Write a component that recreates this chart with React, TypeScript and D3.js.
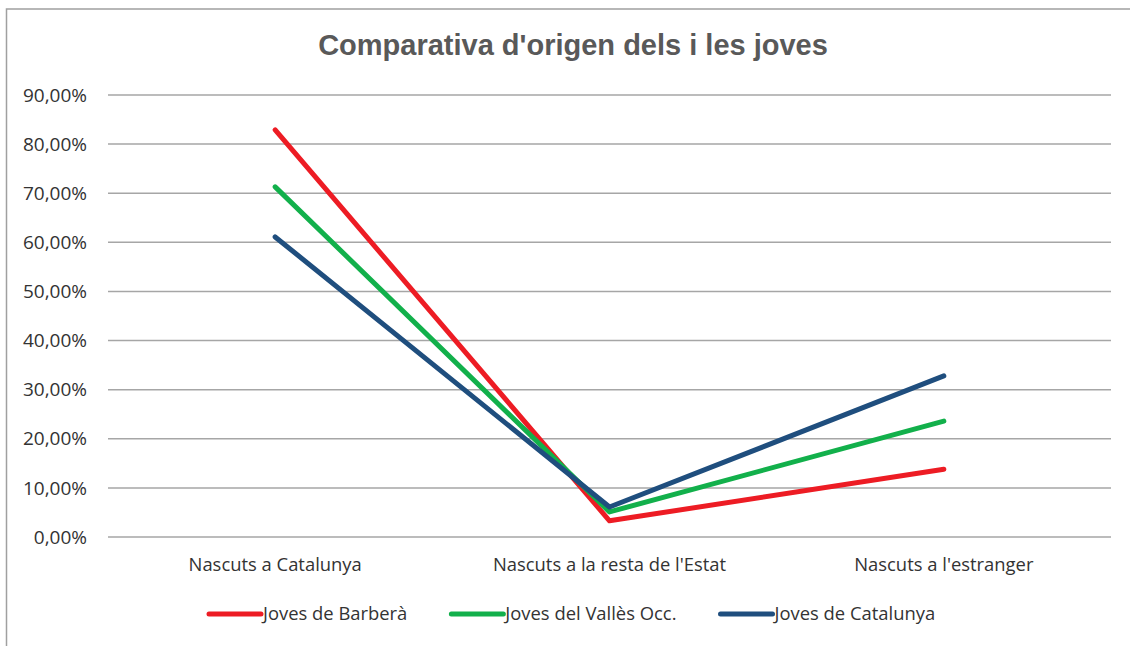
import * as d3 from 'd3';
import React, { useEffect, useRef } from 'react';

// Chart values (shares of young people by place of birth)
const categories = ['Nascuts a Catalunya', "Nascuts a la resta de l'Estat", "Nascuts a l'estranger"];
const seriesNames = ['Joves de Barberà', 'Joves del Vallès Occ.', 'Joves de Catalunya'];
const barbera = [0.829, 0.033, 0.138];
const valles = [0.713, 0.051, 0.236];
const catalunya = [0.611, 0.061, 0.328];
const seriesColors = ['#ED1C24', '#12B04B', '#1F4E7E'];
const yTicks = [0, 0.1, 0.2, 0.3, 0.4, 0.5, 0.6, 0.7, 0.8, 0.9];

const App: React.FC = () => {
  const ref = useRef<SVGSVGElement>(null);

  useEffect(() => {
    if (!ref.current) return;
    const root = d3.select(ref.current);
    root.selectAll('*').remove();

    const W = 1130;
    const H = 646;
    const margin = { top: 95, right: 19, bottom: 109, left: 108 };
    const width = W - margin.left - margin.right;
    const height = H - margin.top - margin.bottom;

    root.attr('width', W).attr('height', H);

    // chart frame
    root.append('rect')
      .attr('x', 6.5).attr('y', 9)
      .attr('width', W + 20).attr('height', H + 20)
      .attr('fill', 'white')
      .attr('stroke', '#A0A0A0')
      .attr('stroke-width', 1.5);

    // title
    root.append('text')
      .attr('x', 573).attr('y', 55)
      .attr('text-anchor', 'middle')
      .style('font', 'bold 29px "Liberation Sans", Arial, sans-serif')
      .attr('fill', '#595959')
      .text("Comparativa d'origen dels i les joves");

    const svg = root.append('g')
      .attr('transform', `translate(${margin.left},${margin.top})`);

    const x = d3.scaleBand().domain(categories).range([0, width]);
    const y = d3.scaleLinear().domain([0, 0.9]).range([height, 0]);

    // gridlines
    svg.append('g')
      .selectAll('line')
      .data(yTicks)
      .enter().append('line')
      .attr('x1', 0).attr('x2', width)
      .attr('y1', d => y(d)).attr('y2', d => y(d))
      .attr('stroke', '#A6A6A6')
      .attr('stroke-width', 1.5);

    // y labels
    const fmt = (v: number) => (v * 100).toFixed(2).replace('.', ',') + '%';
    svg.append('g')
      .selectAll('text')
      .data(yTicks)
      .enter().append('text')
      .attr('x', -21)
      .attr('y', d => y(d))
      .attr('dy', '0.35em')
      .attr('text-anchor', 'end')
      .style('font', '19px "Open Sans", sans-serif')
      .attr('fill', '#333333')
      .text(d => fmt(d));

    // x labels
    svg.append('g')
      .selectAll('text')
      .data(categories)
      .enter().append('text')
      .attr('x', d => (x(d) as number) + x.bandwidth() / 2)
      .attr('y', height + 34)
      .attr('text-anchor', 'middle')
      .style('font', '18.4px "Open Sans", sans-serif')
      .attr('fill', '#333333')
      .text(d => d);

    // lines
    const allSeries = [barbera, valles, catalunya];
    const line = d3.line<number>()
      .x((_, i) => (x(categories[i]) as number) + x.bandwidth() / 2)
      .y(d => y(d));

    svg.selectAll('.series')
      .data(allSeries)
      .enter().append('path')
      .attr('class', 'series')
      .attr('d', d => line(d))
      .attr('fill', 'none')
      .attr('stroke', (_, i) => seriesColors[i])
      .attr('stroke-width', 5)
      .attr('stroke-linecap', 'round')
      .attr('stroke-linejoin', 'round');

    // legend
    const legend = root.append('g').attr('transform', 'translate(0,614)');
    let lx = 209;
    seriesNames.forEach((name, i) => {
      legend.append('line')
        .attr('x1', lx).attr('x2', lx + 52)
        .attr('y1', 0).attr('y2', 0)
        .attr('stroke', seriesColors[i])
        .attr('stroke-width', 5)
        .attr('stroke-linecap', 'round');
      const t = legend.append('text')
        .attr('x', lx + 54)
        .attr('y', 0)
        .attr('dy', '0.35em')
        .style('font', '18.4px "Open Sans", sans-serif')
        .attr('fill', '#333333')
        .text(name);
      const tw = (t.node() as SVGTextElement).getComputedTextLength();
      lx = lx + 54 + tw + 44;
    });
  }, []);

  return <svg ref={ref} style={{ position: 'absolute', left: 0, top: 0 }}></svg>;
};

export default App;
